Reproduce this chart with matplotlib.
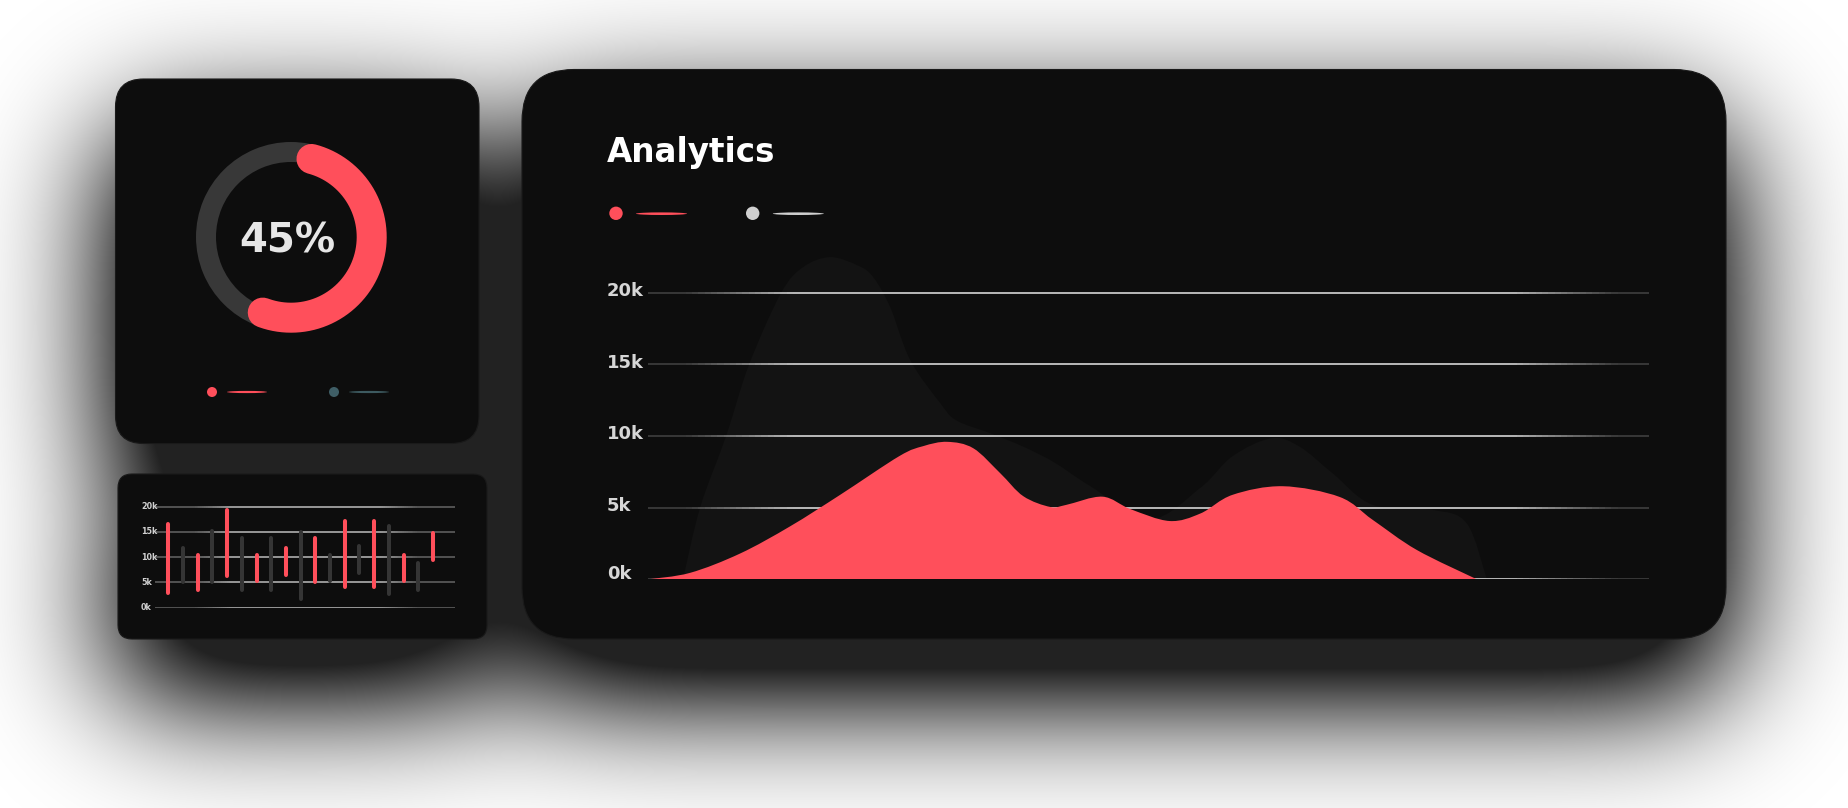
import numpy as np
import matplotlib
matplotlib.use("Agg")
import matplotlib.pyplot as plt
from matplotlib import transforms
from matplotlib.collections import LineCollection
from matplotlib.colors import to_rgba
from matplotlib.patches import FancyBboxPatch, Circle, Ellipse, PathPatch, Wedge
from matplotlib.path import Path

# ---- data ----
# main area chart, x in percent of plot width, values in k
red_x = [0, 4.2, 9.2, 14.2, 19.2, 25.1, 27.5, 29.9, 32.5, 35.2, 37.5, 40.2, 41.8,
         45.4, 48.2, 52.1, 55.2, 58.4, 63.4, 69.1, 72.4, 76.8, 82.8]
red_vals = [0, 0.45, 1.8, 3.7, 5.9, 8.6, 9.3, 9.6, 9.15, 7.4, 5.8, 5.05, 5.2,
            5.77, 4.9, 4.07, 4.6, 5.9, 6.5, 5.75, 4.15, 2.05, 0]
gray_x = [3.5, 5.2, 7.8, 10.1, 13.3, 15.5, 18.2, 21.0, 22.5, 24.2, 26.2, 29.2, 30.8,
          34.2, 37.5, 40.5, 44.2, 50.1, 55.2, 58.4, 62.3, 65.1, 68.4, 72.4, 78.4,
          81.8, 83.8]
gray_vals = [0, 5.0, 10.0, 15.0, 20.0, 21.8, 22.5, 21.9, 21.1, 19.0, 15.3, 12.3, 11.1,
             10.2, 9.26, 8.2, 6.5, 4.2, 6.4, 8.6, 9.85, 9.26, 7.4, 5.2, 4.85,
             3.9, 0]
grid_ticks = [0, 5, 10, 15, 20]
tick_labels = ["0k", "5k", "10k", "15k", "20k"]

# small range-bar chart (k)
bar_high = [16.5, 11.8, 10.4, 15.2, 19.3, 13.8, 10.5, 13.8, 11.8, 15.0, 13.8, 10.5,
            17.2, 12.2, 17.2, 16.1, 10.5, 8.9, 14.7]
bar_low = [3.0, 5.0, 3.5, 5.0, 6.2, 3.6, 5.2, 3.6, 6.5, 1.8, 5.1, 5.2,
           4.1, 6.8, 4.1, 2.8, 5.2, 3.6, 9.4]

donut_value = 45

RED = "#ff4f5b"
PANEL = "#0d0d0d"
W, H = 1848, 808


def rounded_mask(xx, yy, box, r):
    x0, y0, x1, y1 = box
    dx = np.maximum(np.maximum(x0 + r - xx, xx - (x1 - r)), 0)
    dy = np.maximum(np.maximum(y0 + r - yy, yy - (y1 - r)), 0)
    return (dx ** 2 + dy ** 2 <= r ** 2).astype(float)


def gaussian_blur(a, sigma):
    ky = np.fft.fftfreq(a.shape[0])
    kx = np.fft.fftfreq(a.shape[1])
    g = np.exp(-2 * (np.pi * sigma) ** 2 * (ky[:, None] ** 2 + kx[None, :] ** 2))
    return np.real(np.fft.ifft2(np.fft.fft2(a) * g))


def smooth_area(xs, ys):
    """Closed catmull-rom style path down to the zero line."""
    n = len(xs)
    verts = [(xs[0], 0), (xs[0], ys[0])]
    codes = [Path.MOVETO, Path.LINETO]
    for i in range(n - 1):
        p0 = max(i - 1, 0)
        p3 = min(i + 2, n - 1)
        c1 = (xs[i] + (xs[i + 1] - xs[p0]) / 6, ys[i] + (ys[i + 1] - ys[p0]) / 6)
        c2 = (xs[i + 1] - (xs[p3] - xs[i]) / 6, ys[i + 1] - (ys[p3] - ys[i]) / 6)
        verts += [c1, c2, (xs[i + 1], ys[i + 1])]
        codes += [Path.CURVE4] * 3
    verts += [(xs[-1], 0), (xs[0], 0)]
    codes += [Path.LINETO, Path.CLOSEPOLY]
    return Path(verts, codes)


def fade_line(ax, y, x0, x1, color, lw, edge=0.14, floor=0.2):
    xs = np.linspace(x0, x1, 160)
    segs = [[(xs[i], y), (xs[i + 1], y)] for i in range(len(xs) - 1)]
    t = (xs[:-1] - x0) / (x1 - x0)
    alpha = np.clip(np.minimum(t, 1 - t) / edge, floor, 1.0)
    base = np.array(to_rgba(color))
    cols = np.tile(base, (len(alpha), 1))
    cols[:, 3] = alpha
    ax.add_collection(LineCollection(segs, colors=cols, linewidths=lw, zorder=2))


plt.rcParams["font.family"] = ["DejaVu Sans"]
fig = plt.figure(figsize=(W / 100, H / 100), dpi=100)
fig.patch.set_facecolor("white")

# background axes in pixel units (y down)
bg = fig.add_axes([0, 0, 1, 1])
bg.set_xlim(0, W)
bg.set_ylim(H, 0)
bg.axis("off")

panels = [((115.5, 79, 479, 443.5), 28),
          ((118, 474, 487, 639), 14),
          ((522, 69.5, 1726, 639), 52)]

# soft drop shadow
pad = 300
yy, xx = np.mgrid[0:H + 2 * pad, 0:W + 2 * pad].astype(float)
yy = yy - pad + 0.5
xx = xx - pad + 0.5
mask = np.zeros_like(xx)
for (x0, y0, x1, y1), r in panels:
    mask = np.maximum(mask, rounded_mask(xx, yy, (x0, y0 + 54, x1, y1 + 54), r))
blur = gaussian_blur(mask, 66)[pad:pad + H, pad:pad + W]
shadow = np.zeros((H, W, 4))
shadow[..., 3] = 0.87 * np.clip(1.55 * blur, 0, 1)
bg.imshow(shadow, extent=(0, W, H, 0), zorder=1, interpolation="bilinear", aspect="auto")

for (x0, y0, x1, y1), r in panels:
    bg.add_patch(FancyBboxPatch((x0, y0), x1 - x0, y1 - y0,
                                boxstyle="round,pad=0,rounding_size=%d" % r,
                                fc=PANEL, ec="#1a1a1a", lw=0.8, zorder=2))

# donut
cx, cy = 291, 237
bg.add_patch(Wedge((cx, cy), 95, 0, 360, width=20, fc="#383838", ec="none", zorder=3))
theta = np.radians(np.linspace(14.7, 200.5, 200))
bg.plot(cx + 80.7 * np.sin(theta), cy - 80.7 * np.cos(theta), color=RED,
        lw=21.6, solid_capstyle="round", zorder=4)
bg.text(287, 252.5, "%d%%" % donut_value, color="#e6e6e6", fontsize=29,
        fontweight="bold", ha="center", va="baseline", zorder=5)

# donut legend
bg.add_patch(Circle((212, 392), 5, fc=RED, ec="none", zorder=3))
bg.add_patch(Ellipse((247, 392), 40, 2.2, fc=RED, ec="none", zorder=3))
bg.add_patch(Circle((334, 392), 5, fc="#3f5e66", ec="none", zorder=3))
bg.add_patch(Ellipse((369, 392), 40, 2.2, fc="#3d5a60", ec="none", zorder=3))

# main title + legend
bg.text(607, 162, "Analytics", color="white", fontsize=23.5, fontweight="bold",
        ha="left", va="baseline", zorder=5)
bg.add_patch(Circle((616, 213.3), 6.7, fc=RED, ec="none", zorder=3))
bg.add_patch(Ellipse((661.5, 213.7), 51, 2.6, fc=RED, ec="none", zorder=3))
bg.add_patch(Circle((752.7, 213.3), 6.7, fc="#cfcfcf", ec="none", zorder=3))
bg.add_patch(Ellipse((798.3, 213.7), 51, 2.6, fc="#cfcfcf", ec="none", zorder=3))

# ---- main area chart ----
ax = fig.add_axes([648 / W, (H - 579.3) / H, 1001 / W, 358 / H])
ax.set_xlim(0, 100)
ax.set_ylim(0, 25)
ax.axis("off")
ax.add_patch(PathPatch(smooth_area(gray_x, gray_vals), fc="#131313", ec="none", zorder=1))
for v in grid_ticks:
    fade_line(ax, v, 0, 100, "#d6d6d6", 1.2, floor=0.25)
ax.add_patch(PathPatch(smooth_area(red_x, red_vals), fc=RED, ec="none", zorder=3))

base_tr = transforms.blended_transform_factory(bg.transData, ax.transData)
lab_tr = transforms.offset_copy(base_tr, fig=fig, y=-3, units="dots")
for v, lab in zip(grid_ticks, tick_labels):
    ax.text(607, v, lab, transform=lab_tr if v > 0 else base_tr, color="#d6d6d6",
            fontsize=13, fontweight="bold", ha="left", va="baseline", clip_on=False)

# ---- small range-bar chart ----
sx = fig.add_axes([155 / W, (H - 607.7) / H, 300 / W, 126.25 / H])
sx.set_xlim(-0.904, 19.5)
sx.set_ylim(0, 25)
sx.axis("off")
for v in grid_ticks:
    fade_line(sx, v, -0.904, 19.5, "#bdbdbd", 1.1, edge=0.25, floor=0.5)
idx = np.arange(len(bar_high))
bar_cols = [RED if i % 2 == 0 else "#353535" for i in idx]
bars = sx.vlines(idx, bar_low, bar_high, colors=bar_cols, linewidth=2.9, zorder=3)
bars.set_capstyle("round")

s_tr = transforms.offset_copy(transforms.blended_transform_factory(bg.transData, sx.transData),
                              fig=fig, y=-2.5, units="dots")
for v, lab in zip(grid_ticks, tick_labels):
    sx.text(141, v, lab, transform=s_tr, color="#d0d0d0", fontsize=5.8,
            fontweight="bold", ha="left", va="baseline", clip_on=False)

fig.savefig("out.png", dpi=100, facecolor="white")
